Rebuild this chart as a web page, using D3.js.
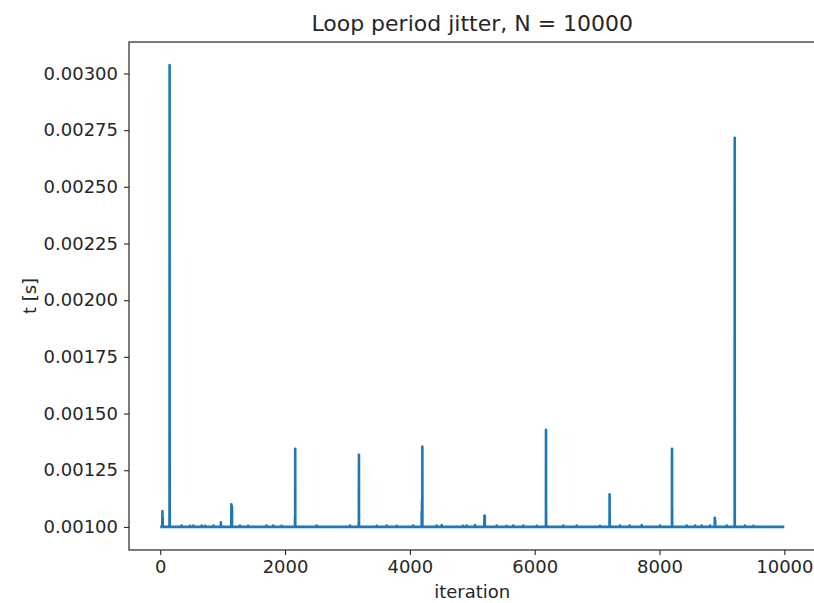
<!DOCTYPE html>
<html>
<head>
<meta charset="utf-8">
<script src="https://cdn.jsdelivr.net/npm/d3@7"></script>
<style>
  body { margin: 0; background: #fff; }
  svg text { font-family: "DejaVu Sans", sans-serif; fill: #262626; }
</style>
</head>
<body>
<div id="chart"></div>
<script>
// Loop period samples: every iteration sits on the baseline except the listed ones
let nSamples = 10000;
let baseline = 0.001;

let spikeIter = [35, 40, 150, 151, 343, 476, 532, 665, 721, 854, 972, 1140, 1150,
  1277, 1410, 1704, 1811, 1945, 2160, 2163, 2506, 3040, 3180, 3184, 3468, 3628,
  3788, 4054, 4190, 4195, 4200, 4429, 4510, 4851, 4910, 5043, 5195, 5200, 5391,
  5551, 5657, 5817, 6032, 6181, 6183, 6458, 6673, 7046, 7200, 7202, 7367, 7521,
  7715, 8008, 8200, 8202, 8436, 8569, 8676, 8809, 8885, 8892, 9077, 9205, 9207,
  9370, 9503];
let spikeVal = [0.00107, 0.00104, 0.00178, 0.003037, 0.001006, 0.001005, 0.001006,
  0.001006, 0.001005, 0.001006, 0.00102, 0.0011, 0.00109, 0.001006, 0.001005,
  0.001006, 0.001006, 0.001005, 0.00104, 0.001345, 0.001006, 0.001006, 0.00102,
  0.001318, 0.001005, 0.001006, 0.001005, 0.001006, 0.00107, 0.001115, 0.001354,
  0.001006, 0.001008, 0.001005, 0.001006, 0.001008, 0.00105, 0.001048, 0.001006,
  0.001005, 0.001006, 0.001006, 0.001005, 0.001428, 0.00107, 0.001006, 0.001006,
  0.001005, 0.001144, 0.00106, 0.001006, 0.001006, 0.001008, 0.001006, 0.001345,
  0.001088, 0.001006, 0.001006, 0.001006, 0.001006, 0.00104, 0.00103, 0.001006,
  0.002716, 0.00101, 0.001006, 0.001005];

let xTicks = [0, 2000, 4000, 6000, 8000, 10000];
let yTicks = [0.001, 0.00125, 0.0015, 0.00175, 0.002, 0.00225, 0.0025, 0.00275, 0.003];

let width = 814;
let height = 603;
let margin = { left: 129, top: 42, right: -1.5, bottom: 53 };

let spikes = new Map(spikeIter.map((d, i) => [d, spikeVal[i]]));
let data = d3.range(nSamples).map((i) => ({
  it: i,
  t: spikes.has(i) ? spikes.get(i) : baseline
}));

// matplotlib style 5% margins
let xExt = d3.extent(data, (d) => d.it);
let yExt = d3.extent(data, (d) => d.t);
let xPad = (xExt[1] - xExt[0]) * 0.05;
let yPad = (yExt[1] - yExt[0]) * 0.05;

let x = d3.scaleLinear()
    .domain([xExt[0] - xPad, xExt[1] + xPad])
    .range([margin.left, width - margin.right]);
let y = d3.scaleLinear()
    .domain([yExt[0] - yPad, yExt[1] + yPad])
    .range([height - margin.bottom, margin.top]);

let svg = d3.select("#chart")
    .append("svg")
    .attr("width", width)
    .attr("height", height);

let line = d3.line()
    .x((d) => x(d.it))
    .y((d) => y(d.t));

svg.append("path")
  .datum(data)
  .attr("fill", "none")
  .attr("stroke", "#1f77b4")
  .attr("stroke-width", 2.6)
  .attr("stroke-linejoin", "round")
  .attr("d", line);

// Axes
let xAxis = svg.append("g")
    .attr("transform", "translate(0," + (height - margin.bottom) + ")")
    .call(d3.axisBottom(x).tickValues(xTicks).tickSize(5).tickPadding(5)
      .tickFormat(d3.format("d")));

let yAxis = svg.append("g")
    .attr("transform", "translate(" + margin.left + ",0)")
    .call(d3.axisLeft(y).tickValues(yTicks).tickSize(5).tickPadding(6)
      .tickFormat(d3.format(".5f")));

[xAxis, yAxis].forEach((g) => {
  g.select(".domain").remove();
  g.selectAll(".tick line").attr("stroke", "#262626").attr("stroke-width", 1.1);
  g.selectAll(".tick text").style("font-size", "18px").attr("fill", "#262626");
});

// Frame
svg.append("rect")
  .attr("x", margin.left)
  .attr("y", margin.top)
  .attr("width", width - margin.right - margin.left)
  .attr("height", height - margin.bottom - margin.top)
  .attr("fill", "none")
  .attr("stroke", "#262626")
  .attr("stroke-width", 1.2);

// Labels
svg.append("text")
  .attr("x", (margin.left + width - margin.right) / 2)
  .attr("y", 31)
  .attr("text-anchor", "middle")
  .style("font-size", "22px")
  .text("Loop period jitter, N = 10000");

svg.append("text")
  .attr("x", (margin.left + width - margin.right) / 2)
  .attr("y", 598)
  .attr("text-anchor", "middle")
  .style("font-size", "18px")
  .text("iteration");

svg.append("text")
  .attr("transform", "translate(36," + (margin.top + height - margin.bottom) / 2 + ") rotate(-90)")
  .attr("text-anchor", "middle")
  .style("font-size", "18px")
  .text("t [s]");
</script>
</body>
</html>
